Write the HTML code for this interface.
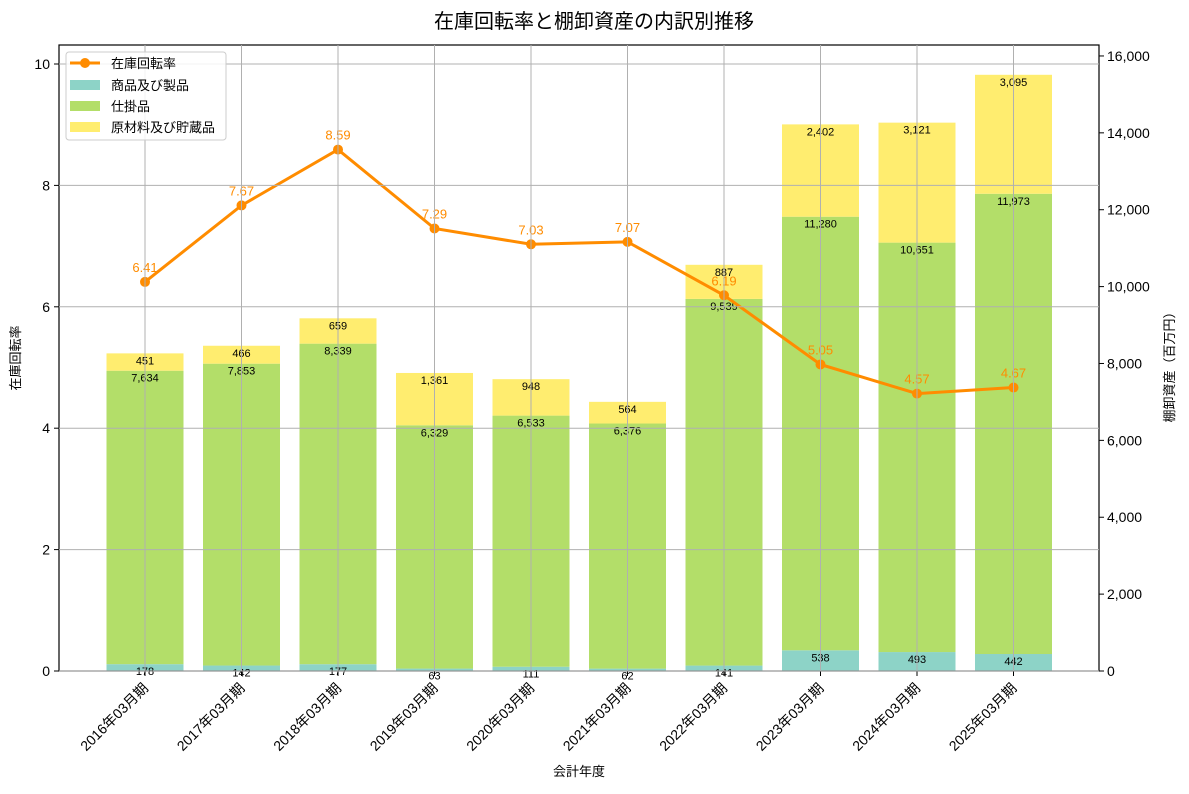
<!DOCTYPE html>
<html><head><meta charset="utf-8"><style>
body{margin:0;background:#fff;font-family:"Liberation Sans","Noto Sans CJK JP",sans-serif}
svg text{font-family:"Liberation Sans","Noto Sans CJK JP",sans-serif}
</style></head><body>
<svg id="c" width="1189" height="789" xmlns="http://www.w3.org/2000/svg">
<text x="594" y="28" text-anchor="middle" font-size="20" fill="#000">在庫回転率と棚卸資産の内訳別推移</text>
<g id="grid"></g><g id="bars"></g><g id="line"></g><g id="axes"></g>
</svg>
<script>
const categories=["2016年03月期","2017年03月期","2018年03月期","2019年03月期","2020年03月期","2021年03月期","2022年03月期","2023年03月期","2024年03月期","2025年03月期"];
const goods=[178,142,177,63,111,62,141,538,493,442];
const wip=[7634,7853,8339,6329,6533,6376,9539,11280,10651,11973];
const raw=[451,466,659,1361,948,564,887,2402,3121,3095];
const turnover=[6.41,7.67,8.59,7.29,7.03,7.07,6.19,5.05,4.57,4.67];
const leftTicks=[0,2,4,6,8,10];
const rightTicks=[0,2000,4000,6000,8000,10000,12000,14000,16000];

const NS="http://www.w3.org/2000/svg";
const L=59,R=1099,T=45,B=671;
const xS=i=>145+i*96.5;
const yL=v=>B-v*60.7;
const yR=v=>B-v*0.03844;
const fmt=v=>v.toLocaleString("en-US");
function mk(p,tag,a,txt){const e=document.createElementNS(NS,tag);for(const k in a)e.setAttribute(k,a[k]);if(txt!==undefined)e.textContent=txt;document.getElementById(p)?document.getElementById(p).appendChild(e):p.appendChild(e);return e;}
// grid
leftTicks.forEach(v=>{const e=mk("grid","line",{x1:L,x2:R,y1:yL(v),y2:yL(v),stroke:"#b0b0b0","stroke-width":1});

});
// bars
const colors=["#8dd3c7","#b3de69","#ffed6f"];
const series=[goods,wip,raw];
const bw=77;
categories.forEach((c,i)=>{let base=0;series.forEach((s,k)=>{const v=s[i];const y0=yR(base),y1=yR(base+v);
const r=mk("bars","rect",{x:xS(i)-bw/2,y:y1,width:bw,height:y0-y1,fill:colors[k]});


base+=v;});});
categories.forEach((c,i)=>{const e=mk("grid","line",{x1:xS(i),x2:xS(i),y1:T,y2:B,stroke:"#b0b0b0","stroke-width":1});

});
document.getElementById("c").appendChild(document.getElementById("grid"));
// value labels
categories.forEach((c,i)=>{let base=0;series.forEach((s,k)=>{base+=s[i];
const t=mk("line","text",{x:xS(i),y:yR(base)+11,"text-anchor":"middle","font-size":11,fill:"#000"},fmt(s[i]));

});});
// turnover line
const pts=turnover.map((v,i)=>xS(i)+","+yL(v)).join(" ");
const pl=mk("line","polyline",{points:pts,fill:"none",stroke:"#ff8c00","stroke-width":3});


turnover.forEach((v,i)=>{const d=mk("line","circle",{cx:xS(i),cy:yL(v),r:5,fill:"#ff8c00"});


const t=mk("line","text",{x:xS(i),y:yL(v)-10,"text-anchor":"middle","font-size":13,fill:"#ff8c00"},v.toFixed(2));

});
// axes frame
const fr=mk("axes","rect",{x:L,y:T,width:R-L,height:B-T,fill:"none",stroke:"#000","stroke-width":1.2});


leftTicks.forEach(v=>{mk("axes","line",{x1:L-5,x2:L,y1:yL(v),y2:yL(v),stroke:"#000"});
const t=mk("axes","text",{x:L-9,y:yL(v)+5,"text-anchor":"end","font-size":14},String(v));

});
rightTicks.forEach(v=>{mk("axes","line",{x1:R,x2:R+5,y1:yR(v),y2:yR(v),stroke:"#000"});
const t=mk("axes","text",{x:R+8,y:yR(v)+5,"text-anchor":"start","font-size":14},fmt(v));

});
categories.forEach((c,i)=>{mk("axes","line",{x1:xS(i),x2:xS(i),y1:B,y2:B+5,stroke:"#000"});
const t=mk("axes","text",{x:xS(i)+4,y:B+18,"text-anchor":"end","font-size":14,transform:`rotate(-45 ${xS(i)+4} ${B+18})`},c);

});
</script>
<svg style="position:absolute;left:0;top:0" width="1189" height="789" xmlns="http://www.w3.org/2000/svg">
<text x="579" y="776" text-anchor="middle" font-size="13">会計年度</text>
<text x="20" y="358" text-anchor="middle" font-size="13" transform="rotate(-90 20 358)">在庫回転率</text>
<text x="1174" y="364" text-anchor="middle" font-size="13" transform="rotate(-90 1174 364)">棚卸資産（百万円）</text>
<g>
<rect x="66" y="52" width="160" height="88" rx="3" fill="#fff" fill-opacity="0.85" stroke="#ccc"/>
<line x1="70" y1="63" x2="100" y2="63" stroke="#ff8c00" stroke-width="3"/><circle cx="85" cy="63" r="5" fill="#ff8c00"/>
<text x="111" y="68" font-size="13">在庫回転率</text>
<rect x="70" y="80" width="30" height="10" fill="#8dd3c7"/><text x="111" y="90" font-size="13">商品及び製品</text>
<rect x="70" y="101" width="30" height="10" fill="#b3de69"/><text x="111" y="111" font-size="13">仕掛品</text>
<rect x="70" y="122" width="30" height="10" fill="#ffed6f"/><text x="111" y="132" font-size="13">原材料及び貯蔵品</text>
</g>
</svg>
</body></html>
